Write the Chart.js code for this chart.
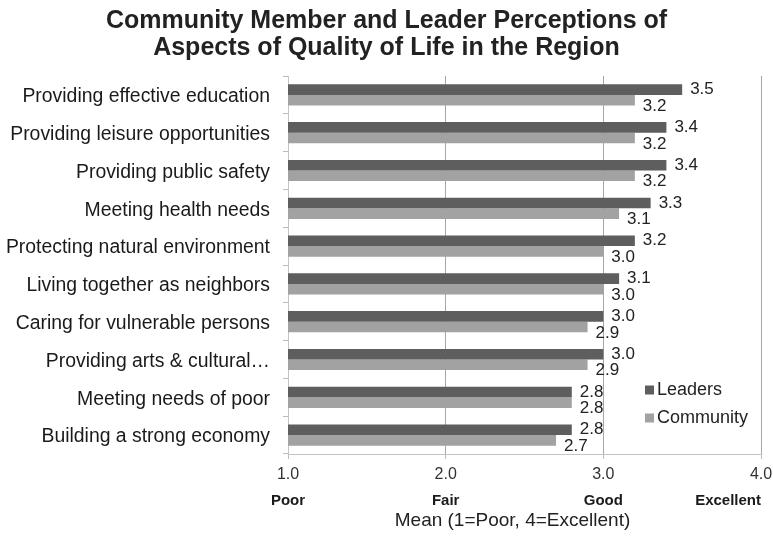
<!DOCTYPE html>
<html>
<head>
<meta charset="utf-8">
<script src="https://cdn.jsdelivr.net/npm/chart.js@4/dist/chart.umd.min.js"></script>
<style>
  html, body { margin: 0; padding: 0; background: #ffffff; }
  #wrap { width: 773px; height: 540px; position: relative; }
</style>
</head>
<body>
<div id="wrap"><canvas id="chart"></canvas></div>
<script>
// Quality-of-life aspects, top to bottom
const categories = [
  'Providing effective education',
  'Providing leisure opportunities',
  'Providing public safety',
  'Meeting health needs',
  'Protecting natural environment',
  'Living together as neighbors',
  'Caring for vulnerable persons',
  'Providing arts & cultural\u2026',
  'Meeting needs of poor',
  'Building a strong economy'
];

// Mean ratings (1 = Poor, 4 = Excellent)
const leaders   = [3.5, 3.4, 3.4, 3.3, 3.2, 3.1, 3.0, 3.0, 2.8, 2.8];
const community = [3.2, 3.2, 3.2, 3.1, 3.0, 3.0, 2.9, 2.9, 2.8, 2.7];

const seriesNames = ['Leaders', 'Community'];
const seriesColors = ['#5e5e5e', '#a2a2a2'];

// Scale words printed beneath the numeric ticks
const scaleValues = [1, 2, 3, 4];
const scaleWords  = ['Poor', 'Fair', 'Good', 'Excellent'];

const axisTitle = 'Mean (1=Poor, 4=Excellent)';
const titleLines = ['Community Member and Leader Perceptions of', 'Aspects of Quality of Life in the Region'];

const FONT = "'Liberation Sans', Arial, Helvetica, sans-serif";

const extras = {
  id: 'extras',
  afterDatasetsDraw(chart) {
    const ctx = chart.ctx;
    const area = chart.chartArea;
    const xs = chart.scales.x;

    // value labels beside each bar
    ctx.save();
    ctx.font = '17px ' + FONT;
    ctx.fillStyle = '#222';
    ctx.textAlign = 'left';
    ctx.textBaseline = 'middle';
    chart.data.datasets.forEach((ds, di) => {
      const meta = chart.getDatasetMeta(di);
      meta.data.forEach((bar, i) => {
        const dy = di === 0 ? 0 : 6;
        ctx.fillText(ds.data[i].toFixed(1), bar.x + 8, bar.y + dy);
      });
    });
    ctx.restore();

    // scale words under the ticks
    ctx.save();
    ctx.font = 'bold 15px ' + FONT;
    ctx.fillStyle = '#1a1a1a';
    ctx.textAlign = 'center';
    ctx.textBaseline = 'middle';
    scaleValues.forEach((v, i) => {
      const w = ctx.measureText(scaleWords[i]).width;
      let px = xs.getPixelForValue(v);
      px = Math.min(px, area.right - w / 2);
      ctx.fillText(scaleWords[i], px, area.bottom + 47);
    });

    // axis title
    ctx.font = '19px ' + FONT;
    ctx.fillStyle = '#222';
    ctx.fillText(axisTitle, (area.left + area.right) / 2 - 12, area.bottom + 67);
    ctx.restore();

    // legend inside the plot, lower right
    ctx.save();
    ctx.font = '18px ' + FONT;
    ctx.textAlign = 'left';
    ctx.textBaseline = 'middle';
    const lx = area.right - 116;
    const rows = [area.bottom - 64, area.bottom - 36];
    chart.data.datasets.forEach((ds, di) => {
      ctx.fillStyle = ds.backgroundColor;
      ctx.fillRect(lx, rows[di] - 4.5, 9, 9);
      ctx.fillStyle = '#222';
      ctx.fillText(ds.label, lx + 12, rows[di]);
    });
    ctx.restore();
  }
};

new Chart(document.getElementById('chart'), {
  type: 'bar',
  data: {
    labels: categories,
    datasets: [
      { label: seriesNames[0], data: leaders, backgroundColor: seriesColors[0] },
      { label: seriesNames[1], data: community, backgroundColor: seriesColors[1] }
    ]
  },
  options: {
    indexAxis: 'y',
    responsive: true,
    maintainAspectRatio: false,
    animation: false,
    datasets: {
      bar: { barPercentage: 1.0, categoryPercentage: 0.56, borderWidth: 0 }
    },
    layout: { padding: { left: 0, right: 0, top: 0, bottom: 0 } },
    plugins: {
      legend: { display: false },
      tooltip: { enabled: false },
      title: {
        display: true,
        text: titleLines,
        color: '#222',
        font: { family: FONT, size: 25, weight: 'bold', lineHeight: 1.08 },
        padding: { top: 8, bottom: 14 }
      }
    },
    scales: {
      x: {
        min: 1,
        max: 4,
        afterFit(s) { s.height = 86; s.paddingRight = 12; },
        ticks: {
          stepSize: 1,
          callback: (v) => Number(v).toFixed(1),
          color: '#333',
          font: { family: FONT, size: 16 },
          padding: 6,
          maxRotation: 0
        },
        grid: { color: '#a6a6a6', tickLength: 5, tickColor: '#bdbdbd' },
        border: { color: '#c4c4c4' }
      },
      y: {
        afterFit(s) { s.width = 288; },
        ticks: {
          color: '#1a1a1a',
          font: { family: FONT, size: 19.4 },
          padding: 13,
          labelOffset: 2,
          autoSkip: false
        },
        grid: { drawOnChartArea: false, tickLength: 5, color: '#bdbdbd' },
        border: { color: '#c4c4c4' }
      }
    }
  },
  plugins: [extras]
});
</script>
</body>
</html>
